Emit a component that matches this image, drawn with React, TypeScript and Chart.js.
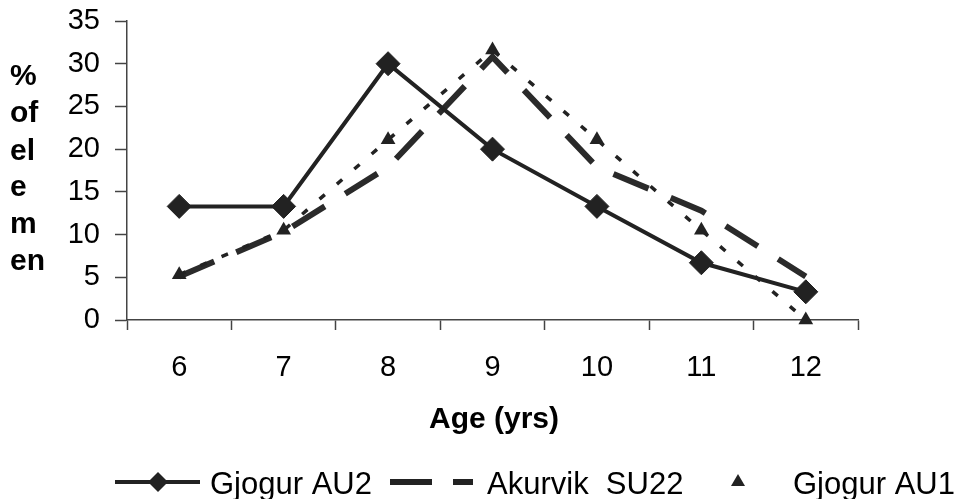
import React, { useEffect, useRef } from 'react';
import { Chart, registerables } from 'chart.js';

Chart.register(...registerables);

const categories = ['6', '7', '8', '9', '10', '11', '12'];
const gjogurAU2 = [13.3, 13.3, 30, 20, 13.3, 6.7, 3.3];
const akurvikSU22 = [5.1, 10.3, 17.9, 30.8, 17.9, 12.8, 5.1];
const gjogurAU1 = [5.3, 10.5, 21.1, 31.6, 21.1, 10.5, 0];
const seriesNames = ['Gjogur AU2', 'Akurvik  SU22', 'Gjogur AU1'];
const yMin = 0;
const yMax = 35;
const yStep = 5;
const xTitle = 'Age (yrs)';
const yTitleLines = ['%', 'of', 'el', 'e', 'm', 'en'];

const FONT = '"Liberation Sans", Arial, Helvetica, sans-serif';
const INK = '#222222';

const textPlugin = {
  id: 'customText',
  afterDraw(chart: any) {
    const ctx = chart.ctx as CanvasRenderingContext2D;
    ctx.save();
    ctx.fillStyle = '#000';
    // x title
    ctx.font = `bold 30px ${FONT}`;
    ctx.textAlign = 'center';
    ctx.textBaseline = 'alphabetic';
    ctx.fillText(xTitle, 494, 428);
    // y title stacked
    ctx.textAlign = 'left';
    const baselines = [85, 122, 160, 196, 233, 270];
    yTitleLines.forEach((t, i) => ctx.fillText(t, 10, baselines[i]));

    // legend
    const ly = 482;
    ctx.strokeStyle = INK;
    ctx.fillStyle = INK;
    // series 1: solid with diamond
    ctx.lineWidth = 4;
    ctx.setLineDash([]);
    ctx.beginPath();
    ctx.moveTo(115, ly);
    ctx.lineTo(200, ly);
    ctx.stroke();
    ctx.beginPath();
    const r = 10;
    ctx.moveTo(158, ly - r);
    ctx.lineTo(158 + r, ly);
    ctx.lineTo(158, ly + r);
    ctx.lineTo(158 - r, ly);
    ctx.closePath();
    ctx.fill();
    // series 2: long dash
    ctx.lineWidth = 6;
    ctx.beginPath();
    ctx.moveTo(390, ly);
    ctx.lineTo(432, ly);
    ctx.moveTo(453, ly);
    ctx.lineTo(473, ly);
    ctx.stroke();
    // series 3: triangle marker
    ctx.beginPath();
    ctx.moveTo(738, ly - 8);
    ctx.lineTo(745, ly + 4);
    ctx.lineTo(731, ly + 4);
    ctx.closePath();
    ctx.fill();

    ctx.fillStyle = '#000';
    ctx.font = `31px ${FONT}`;
    ctx.textAlign = 'left';
    ctx.fillText(seriesNames[0], 210, 494);
    ctx.fillText(seriesNames[1], 487, 494);
    ctx.fillText(seriesNames[2], 793, 494);
    ctx.restore();
  },
};

export default function App() {
  const ref = useRef<HTMLCanvasElement | null>(null);

  useEffect(() => {
    document.body.style.margin = '0';
    const canvas = ref.current;
    if (!canvas) return;
    const chart = new Chart(canvas, {
      type: 'line',
      data: {
        labels: categories,
        datasets: [
          {
            label: seriesNames[1],
            data: akurvikSU22,
            borderColor: '#2a2a2a',
            borderWidth: 6,
            borderDash: [38, 24],
            pointRadius: 0,
            tension: 0,
            fill: false,
            clip: false,
            order: 3,
          },
          {
            label: seriesNames[2],
            data: gjogurAU1,
            borderColor: INK,
            borderWidth: 3.5,
            borderDash: [7, 16],
            pointStyle: 'triangle',
            pointRadius: 8.5,
            pointBackgroundColor: INK,
            pointBorderColor: INK,
            pointBorderWidth: 0,
            tension: 0,
            fill: false,
            clip: false,
            order: 2,
          },
          {
            label: seriesNames[0],
            data: gjogurAU2,
            borderColor: INK,
            borderWidth: 4,
            pointStyle: 'rectRot',
            pointRadius: 12,
            pointBackgroundColor: INK,
            pointBorderColor: INK,
            pointBorderWidth: 1,
            tension: 0,
            fill: false,
            clip: false,
            order: 1,
          },
        ],
      },
      options: {
        responsive: false,
        animation: false,
        devicePixelRatio: 1,
        layout: { padding: { top: 21, right: 100, left: 0, bottom: 0 } },
        plugins: {
          legend: { display: false },
          tooltip: { enabled: false },
          title: { display: false },
        },
        scales: {
          x: {
            type: 'category',
            offset: true,
            grid: {
              offset: true,
              drawOnChartArea: false,
              drawTicks: true,
              tickLength: 10,
              tickColor: '#444',
              tickWidth: 1.5,
            },
            border: { display: true, color: '#444', width: 1.5 },
            ticks: {
              color: '#000',
              font: { family: FONT, size: 29 },
              padding: 21,
              maxRotation: 0,
              autoSkip: false,
            },
            afterFit(scale: any) {
              scale.height = 179;
              scale.paddingLeft = 0;
              scale.paddingRight = 0;
            },
          },
          y: {
            min: yMin,
            max: yMax,
            grid: {
              drawOnChartArea: false,
              drawTicks: true,
              tickLength: 12,
              tickColor: '#444',
              tickWidth: 1.5,
            },
            border: { display: true, color: '#444', width: 1.5 },
            ticks: {
              stepSize: yStep,
              color: '#000',
              font: { family: FONT, size: 29 },
              padding: 15,
            },
            afterFit(scale: any) {
              scale.width = 127;
              scale.paddingTop = 0;
              scale.paddingBottom = 0;
            },
          },
        },
      },
      plugins: [textPlugin],
    });
    return () => chart.destroy();
  }, []);

  return (
    <div style={{ width: 958, height: 499 }}>
      <canvas ref={ref} width={958} height={499} style={{ display: 'block' }} />
    </div>
  );
}
